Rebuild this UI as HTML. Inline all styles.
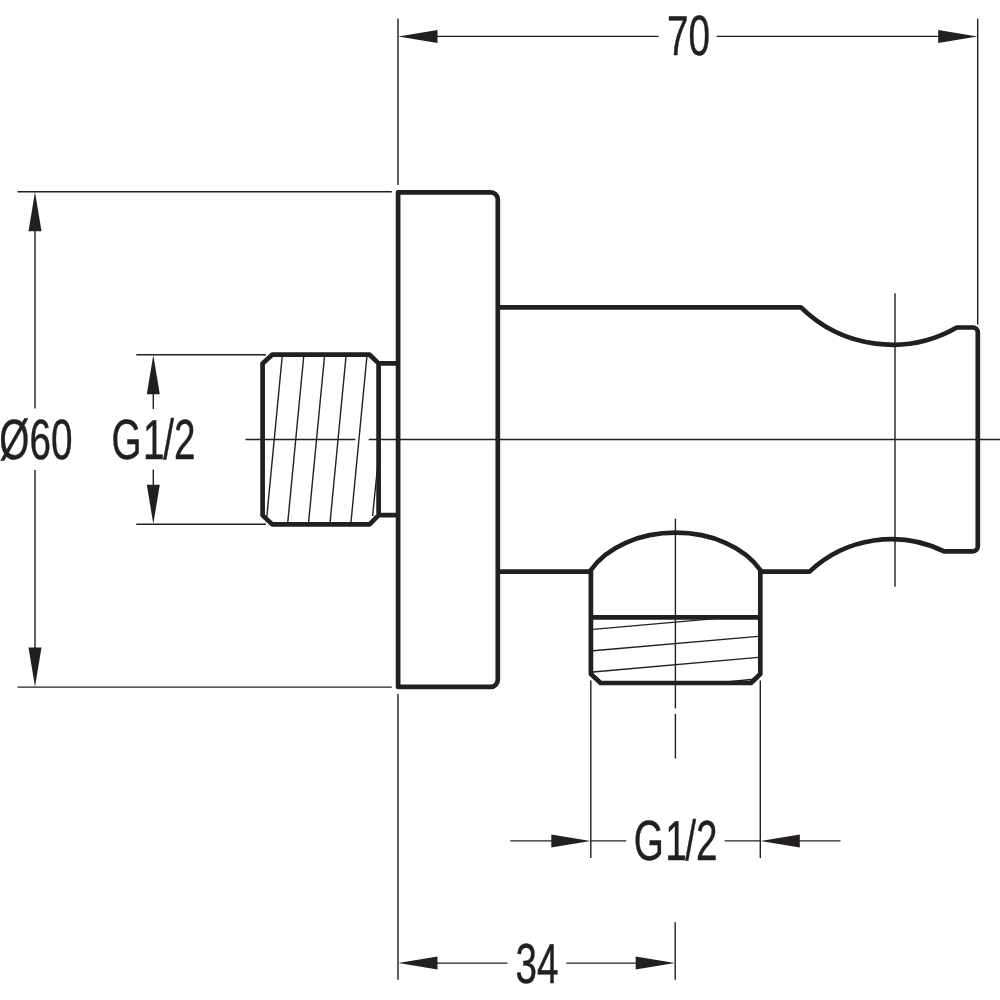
<!DOCTYPE html>
<html lang="en">
<head>
<meta charset="utf-8">
<title>Technical drawing</title>
<style>
html,body{margin:0;padding:0;background:#fefffe;}
body{width:1000px;height:1000px;overflow:hidden;}
svg{display:block;}
text{font-family:"Liberation Sans",sans-serif;fill:#231f20;stroke:#231f20;stroke-width:0.45px;vector-effect:non-scaling-stroke;stroke-linejoin:round;text-rendering:geometricPrecision;}
svg{will-change:transform;}
</style>
</head>
<body>
<svg width="1000" height="1000" viewBox="0 0 1000 1000">
<rect width="1000" height="1000" fill="#fefffe"/>
<g stroke="#231f20" stroke-width="1.4" fill="none">
<line x1="398" y1="18.8" x2="398" y2="185"/>
<line x1="977.7" y1="18.8" x2="977.7" y2="324.5"/>
<line x1="437" y1="36.4" x2="658.5" y2="36.4"/>
<line x1="716.5" y1="36.4" x2="939" y2="36.4"/>
<line x1="17.5" y1="191.8" x2="391.8" y2="191.8"/>
<line x1="17.5" y1="687.1" x2="391.8" y2="687.1"/>
<line x1="35" y1="229" x2="35" y2="408.5"/>
<line x1="35" y1="470" x2="35" y2="650"/>
<line x1="136.3" y1="354.8" x2="266" y2="354.8"/>
<line x1="136.3" y1="524.2" x2="266" y2="524.2"/>
<line x1="153.3" y1="393" x2="153.3" y2="409"/>
<line x1="153.3" y1="469.5" x2="153.3" y2="486"/>
<line x1="245.5" y1="439.5" x2="355.3" y2="439.5"/>
<line x1="368.7" y1="439.5" x2="1000" y2="439.5"/>
<line x1="895" y1="293.2" x2="895" y2="586.7"/>
<line x1="675.4" y1="518.7" x2="675.4" y2="708.4"/>
<line x1="675.4" y1="713.9" x2="675.4" y2="758.5"/>
<line x1="590.8" y1="680.4" x2="590.8" y2="858"/>
<line x1="760.3" y1="680.4" x2="760.3" y2="858"/>
<line x1="510.3" y1="840.9" x2="552" y2="840.9"/>
<line x1="590.8" y1="840.9" x2="626.2" y2="840.9"/>
<line x1="724.6" y1="840.9" x2="760.3" y2="840.9"/>
<line x1="799" y1="840.9" x2="840.5" y2="840.9"/>
<line x1="398" y1="694" x2="398" y2="979.8"/>
<line x1="675.2" y1="922.3" x2="675.2" y2="979.8"/>
<line x1="437" y1="963.1" x2="507.4" y2="963.1"/>
<line x1="566.3" y1="963.1" x2="636" y2="963.1"/>
</g>
<g stroke="#231f20" stroke-width="1.4" fill="none">
<line x1="282.2" y1="356.5" x2="266.84" y2="516.5"/>
<line x1="303.7" y1="356.5" x2="287.75" y2="522.6"/>
<line x1="324.5" y1="356.5" x2="308.55" y2="522.6"/>
<line x1="346.0" y1="356.5" x2="330.05" y2="522.6"/>
<line x1="366.9" y1="356.5" x2="350.95" y2="522.6"/>
<line x1="377.4" y1="468" x2="372.6" y2="516"/>
<line x1="593" y1="629.4" x2="715" y2="618.6"/>
<line x1="593" y1="650.7" x2="758.2" y2="636.4"/>
<line x1="593" y1="672.0" x2="758.2" y2="657.4"/>
<line x1="724" y1="682.3" x2="753.5" y2="679.3"/>
</g>
<g fill="#231f20" stroke="none">
<polygon points="398.30,36.40 437.50,29.90 437.50,42.90"/>
<polygon points="977.40,36.40 938.20,42.90 938.20,29.90"/>
<polygon points="35.00,192.10 41.50,231.30 28.50,231.30"/>
<polygon points="35.00,686.80 28.50,647.60 41.50,647.60"/>
<polygon points="153.30,355.10 159.80,394.30 146.80,394.30"/>
<polygon points="153.30,523.90 146.80,484.70 159.80,484.70"/>
<polygon points="590.50,840.90 551.30,847.40 551.30,834.40"/>
<polygon points="760.60,840.90 799.80,834.40 799.80,847.40"/>
<polygon points="398.30,963.10 437.50,956.60 437.50,969.60"/>
<polygon points="674.90,963.10 635.70,969.60 635.70,956.60"/>
</g>
<g stroke="#231f20" stroke-width="4.7" fill="none" stroke-linejoin="round" stroke-linecap="butt">
<path d="M398.1,192.3 H490.6 A7.2,7.2 0 0 1 497.8,199.5 V679.7 A7.2,7.2 0 0 1 490.6,686.9 H398.1 Z"/>
<path d="M398.1,363.4 H378.6 M398.1,515.2 H378.6 M378.6,363.4 L369.6,354.7 H272.2 L262.6,363.4 V515.2 L272.2,524.4 H369.6 L378.6,515.2 Z"/>
<path d="M497.8,307.4 H801 A130,130 0 0 0 956.8,327.5 H972.8 A5,5 0 0 1 977.8,332.5 V546.3 A5,5 0 0 1 972.8,551.3 H944.1 A120,120 0 0 0 809.5,571.6 H761.2"/>
<path d="M497.8,571.6 H590"/>
<path d="M590.9,571.6 V570 A94.5,67 0 0 1 760.3,570 V674 L751,683 H600.6 L590.9,674 Z"/>
<path d="M590.9,617.3 H760.3"/>
</g>
<g>
<text transform="translate(667,55.0) scale(0.685,1)" font-size="56.5">70</text>
<text transform="translate(-0.7,458.9) scale(0.685,1)" font-size="56.5">Ø60</text>
<text transform="translate(111.5,458.8) scale(0.685,1)" font-size="56.5" dx="0 2.2 -2.2 0">G1/2</text>
<text transform="translate(633.7,860.0) scale(0.685,1)" font-size="56.5" dx="0 2.2 -2.2 0">G1/2</text>
<text transform="translate(515.5,982.9) scale(0.685,1)" font-size="56.5">34</text>
</g>
</svg>
</body>
</html>
